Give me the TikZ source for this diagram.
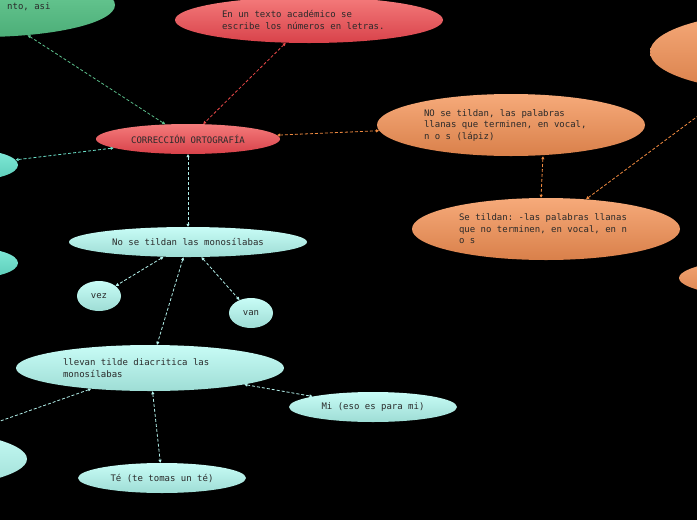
\documentclass[tikz,border=0pt]{standalone}
\usepackage{fontspec}
\newfontfamily\mapfont[WordSpace={1,0,0}]{DejaVu Sans Mono}
\usetikzlibrary{arrows.meta,shapes.geometric}
\definecolor{inkgray}{HTML}{2A2A2A}
\definecolor{redtop}{HTML}{F47B7B}\definecolor{redbot}{HTML}{D8424A}
\definecolor{oratop}{HTML}{F6AA7A}\definecolor{orabot}{HTML}{D9804A}
\definecolor{minttop}{HTML}{C8FCF6}\definecolor{mintbot}{HTML}{9EDDD5}
\definecolor{tealtop}{HTML}{80E9D8}\definecolor{tealbot}{HTML}{5CCDB8}
\definecolor{grntop}{HTML}{70D09A}\definecolor{grnbot}{HTML}{4CAE78}
\definecolor{grnline}{HTML}{5CC08C}\definecolor{redline}{HTML}{E84848}
\definecolor{oraline}{HTML}{F08A40}\definecolor{tealline}{HTML}{6CE0C8}
\definecolor{mintline}{HTML}{B4F2EC}
\begin{document}
\begin{tikzpicture}[x=1pt,y=-1pt,
bubble/.style={ellipse,inner sep=0pt,font=\mapfont\fontsize{9}{11.5}\selectfont,text=inkgray},
longtext/.style={text width=174pt,align=left,
  execute at begin node={\spaceskip=\fontdimen2\font\xspaceskip=\fontdimen2\font}},
rednode/.style={bubble,top color=redtop,bottom color=redbot},
oranode/.style={bubble,top color=oratop,bottom color=orabot},
mintnode/.style={bubble,top color=minttop,bottom color=mintbot},
tealnode/.style={bubble,top color=tealtop,bottom color=tealbot},
grnnode/.style={bubble,top color=grntop,bottom color=grnbot},
link/.style={draw=#1,line width=.8pt,dash pattern=on 3pt off 2pt,
  {Triangle[length=3pt,width=3pt]}-{Triangle[length=3pt,width=3pt]}}]
\useasboundingbox (0,0) rectangle (697,520);
\fill[black] (0,0) rectangle (697,520);
\clip (0,0) rectangle (697,520);
% nodes
\node[grnnode,minimum width=268pt,minimum height=64pt](grn) at (-19,5){};
\node[bubble,anchor=west](grntxt) at (-2,7){nto, asi};
\node[rednode,longtext,minimum width=268pt,minimum height=46pt](numeros) at (309,20){En un texto académico se\\escribe los números en letras.};
\node[rednode,minimum width=184pt,minimum height=30pt](main) at (188,139){CORRECCIÓN ORTOGRAFÍA};
\node[oranode,minimum width=268pt,minimum height=80pt](oratop) at (784,52){};
\node[oranode,longtext,minimum width=268pt,minimum height=62pt](nollanas) at (511,125){NO se tildan, las palabras\\llanas que terminen, en vocal,\\n o s (lápiz)};
\node[oranode,longtext,minimum width=268pt,minimum height=62pt](sellanas) at (546,229){Se tildan: -las palabras llanas\\que no terminen, en vocal, en n\\o s};
\node[oranode,minimum width=268pt,minimum height=46pt](orabot) at (813,278){};
\node[tealnode,minimum width=90pt,minimum height=30pt](tealA) at (-27,165){};
\node[tealnode,minimum width=90pt,minimum height=30pt](tealB) at (-27,263){};
\node[mintnode,minimum width=238pt,minimum height=30pt](mono) at (188,242){No se tildan las monosílabas};
\node[mintnode,minimum width=44pt,minimum height=30pt](vez) at (99,296){vez};
\node[mintnode,minimum width=44pt,minimum height=30pt](van) at (251,313){van};
\node[mintnode,longtext,minimum width=268pt,minimum height=46pt](diacr) at (150,368){llevan tilde diacritica las\\monosílabas};
\node[mintnode,minimum width=168pt,minimum height=30pt](mi) at (373,407){Mi (eso es para mi)};
\node[mintnode,minimum width=168pt,minimum height=30pt](te) at (162,478){Té (te tomas un té)};
\node[mintnode,minimum width=268pt,minimum height=62pt](mintleft) at (-107,459){};
% links
\draw[link=grnline](grn)--(main);
\draw[link=redline](numeros)--(main);
\draw[link=oraline](main)--(nollanas);
\draw[link=tealline](main)--(tealA);
\draw[link=mintline](main)--(mono);
\draw[link=oraline]([xshift=32pt]nollanas.south)--([xshift=-5pt]sellanas.north);
\draw[link=oraline](sellanas)--(oratop);
\draw[link=mintline](mono)--(vez);\draw[link=mintline](mono)--(van);
\draw[link=mintline](mono)--(diacr);
\draw[link=mintline](diacr)--(mi);\draw[link=mintline](diacr)--(te);
\draw[link=mintline](diacr)--(mintleft);
\end{tikzpicture}
\end{document}
